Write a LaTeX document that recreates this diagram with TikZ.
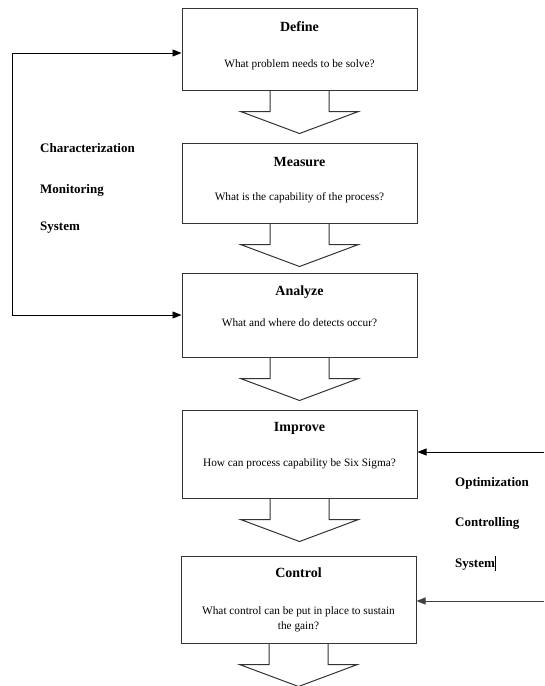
\documentclass[tikz,border=0pt]{standalone}
\usepackage{fontspec}
\setmainfont{Liberation Serif}
\usetikzlibrary{calc,arrows.meta}

\tikzset{
	stage/.style={draw=black!80, line width=1pt, minimum width=235pt, inner sep=0pt},
	stagetitle/.style={font=\fontsize{14}{16}\selectfont\bfseries},
	stagequest/.style={font=\fontsize{11.3}{15}\selectfont, align=center},
	sidetext/.style={font=\fontsize{13}{15}\selectfont\bfseries, anchor=west, inner sep=0pt},
	blockarrow/.style={draw=black!80, line width=1pt, line join=miter},
	flow/.style={draw=black, line width=0.9pt, -{Triangle[length=9pt,width=7pt]}}
}

\begin{document}
\begin{tikzpicture}[x=1pt, y=1pt]
			\useasboundingbox (0, 0) rectangle (544, -686);

			% the five stages
			\node [stage, minimum height=82pt] (define) at (299.5, -49) {};
			\node [stage, minimum height=80pt] (measure) at (299.5, -183) {};
			\node [stage, minimum height=84pt] (analyze) at (299.5, -315) {};
			\node [stage, minimum height=88pt] (improve) at (299.5, -454) {};
			\node [stage, minimum height=87pt] (control) at (298.5, -599.5) {};

			\node [stagetitle] (define-t) at (299.5, -27) {Define};
			\node [stagequest] (define-q) at (299.5, -65) {What problem needs to be solve?};
			\node [stagetitle] (measure-t) at (299.5, -162) {Measure};
			\node [stagequest] (measure-q) at (299.5, -198) {What is the capability of the process?};
			\node [stagetitle] (analyze-t) at (299.5, -292) {Analyze};
			\node [stagequest] (analyze-q) at (299.5, -323) {What and where do detects occur?};
			\node [stagetitle] (improve-t) at (299.5, -428) {Improve};
			\node [stagequest] (improve-q) at (299.5, -464) {How can process capability be Six Sigma?};
			\node [stagetitle] (control-t) at (298.5, -573) {Control};
			\node [stagequest] (control-q) at (298.5, -619.5) {What control can be put in place to sustain\\the gain?};

			% block arrows under each stage
			\foreach \s in {define, measure, analyze, improve, control} {
				\draw [blockarrow] ($(\s.south)+(-29.5, 0)$) -- ++(0, -21) -- ++(-29.5, 0)
					-- ($(\s.south)+(0, -43)$) -- ($(\s.south)+(59, -21)$)
					-- ($(\s.south)+(29.5, -21)$) -- ($(\s.south)+(29.5, 0)$);
			}

			% characterization loop on the left
			\coordinate (looptop) at (12, -53);
			\draw [flow] (looptop) -- (looptop -| define.west);
			\draw [flow] (looptop) |- (analyze.west);

			\node [sidetext] (char) at (40, -148) {Characterization};
			\node [sidetext] (moni) at (40, -190) {Monitoring};
			\node [sidetext] (lsys) at (40, -228) {System};

			% optimization inputs on the right
			\coordinate (optin) at (544, -452);
			\coordinate (ctlin) at (544, -601);
			\draw [flow] (optin) -- (optin -| improve.east);
			\draw [flow, draw=black!75] (ctlin) -- (ctlin -| control.east);

			\node [sidetext] (opti) at (455, -483) {Optimization};
			\node [sidetext] (ctrl) at (455, -523) {Controlling};
			\node [sidetext] (rsys) at (455, -563) {System\rule[-3pt]{1.2pt}{15pt}};
		\end{tikzpicture}
\end{document}
